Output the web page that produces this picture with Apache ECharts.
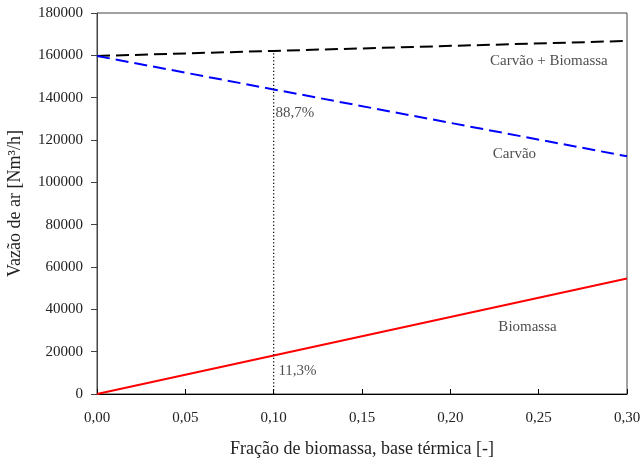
<!DOCTYPE html>
<html><head><meta charset="utf-8">
<script src="https://cdn.jsdelivr.net/npm/echarts@6/dist/echarts.min.js"></script>
<style>html,body{margin:0;padding:0;background:#fff}#c{width:642px;height:459px}</style>
</head><body><div id="c"></div>
<script>
var xFrac = [0, 0.10, 0.30];
var carvaoBiomassa = [159700, 162100, 166800];
var carvao = [159700, 143900, 112300];
var biomassa = [0, 18200, 54600];
var refX = 0.10;
var annotations = [
  {name: 'Carvão + Biomassa', x: 0.2558, y: 157200},
  {name: 'Carvão', x: 0.2363, y: 113300},
  {name: 'Biomassa', x: 0.2437, y: 31600},
  {name: '88,7%', x: 0.1120, y: 132700},
  {name: '11,3%', x: 0.1135, y: 10900}
];
var FONT = 'Liberation Serif';
function pairs(ys){ return xFrac.map(function(x,i){return [x, ys[i]];}); }
var refIdx = xFrac.indexOf(refX);
var chart = echarts.init(document.getElementById('c'));
chart.setOption({
  animation: false,
  grid: {left: 97, right: 15, top: 13, bottom: 65, show: true, borderColor: '#444', borderWidth: 1,
         containLabel: false, outerBoundsMode: 'none'},
  xAxis: {
    type: 'value', min: 0, max: 0.3, interval: 0.05,
    name: 'Fração de biomassa, base térmica [-]', nameLocation: 'middle', nameGap: 46,
    nameTextStyle: {fontFamily: FONT, fontSize: 18, color: '#222'},
    axisLine: {lineStyle: {color: '#000', width: 1}},
    axisTick: {inside: true, length: 5, lineStyle: {color: '#000'}},
    axisLabel: {fontFamily: FONT, fontSize: 15, color: '#222', margin: 17,
      formatter: function(v){ return v.toFixed(2).replace('.', ','); }},
    splitLine: {show: false}
  },
  yAxis: {
    type: 'value', min: 0, max: 180000, interval: 20000,
    name: 'Vazão de ar [Nm³/h]', nameLocation: 'middle', nameGap: 73, nameRotate: 90,
    nameTextStyle: {fontFamily: FONT, fontSize: 18, color: '#222'},
    axisLine: {show: true, lineStyle: {color: '#444', width: 1}},
    axisTick: {show: true, length: 6, lineStyle: {color: '#444'}},
    axisLabel: {fontFamily: FONT, fontSize: 15, color: '#222', margin: 14,
      formatter: function(v){ return String(v); }},
    splitLine: {show: false}
  },
  series: [
    {type: 'line', name: 'Carvão + Biomassa', data: pairs(carvaoBiomassa), symbol: 'none',
     lineStyle: {color: '#000', width: 2, type: [13, 6]}},
    {type: 'line', name: 'Carvão', data: pairs(carvao), symbol: 'none',
     lineStyle: {color: '#0000ff', width: 2, type: [13, 6]}},
    {type: 'line', name: 'Biomassa', data: pairs(biomassa), symbol: 'none',
     lineStyle: {color: '#ff0000', width: 2}},
    {type: 'line', name: 'ref', data: [[refX, 0], [refX, carvaoBiomassa[refIdx]]], symbol: 'none',
     lineStyle: {color: '#000', width: 1.2, type: [1.2, 2.3]}},
    {type: 'scatter', name: 'labels', symbolSize: 0,
     data: annotations.map(function(a){ return {name: a.name, value: [a.x, a.y]}; }),
     label: {show: true, position: 'inside', formatter: '{b}', fontFamily: FONT, fontSize: 15, color: '#222'}}
  ]
});
</script></body></html>
